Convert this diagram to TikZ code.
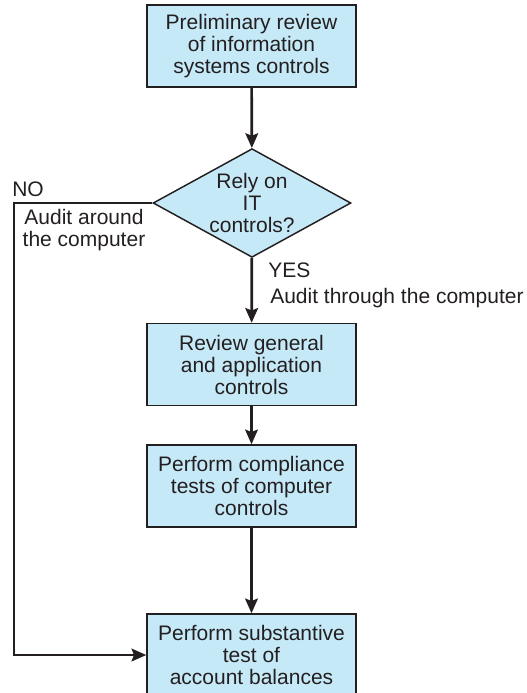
\documentclass[tikz,border=0pt]{standalone}
\usepackage{fontspec}
\setmainfont{Liberation Sans}
\usetikzlibrary{arrows.meta,shapes.geometric}
\definecolor{boxblue}{HTML}{C6E9F8}
\definecolor{inkgray}{HTML}{231F20}

\tikzset{
  stepbox/.style={draw=inkgray,fill=boxblue,line width=1.1pt,align=center,
    minimum width=156.75pt,minimum height=61.5pt,inner sep=0pt,text=inkgray},
  choice/.style={draw=inkgray,fill=boxblue,line width=1.1pt,diamond,aspect=1.82,
    inner sep=0.6pt,align=center,text=inkgray},
  note/.style={text=inkgray,inner sep=0pt},
  flow/.style={line width=2pt,draw=inkgray,-{Stealth[length=11pt,width=9.5pt,inset=1.8pt]}}
}

\begin{document}
\begin{tikzpicture}[x=0.75pt,y=-0.75pt,font=\fontsize{15.75pt}{16.5pt}\selectfont]
  \useasboundingbox (0,0) rectangle (527,693);

  \node[stepbox] (review) at (251.5,46) {Preliminary review\\of information\\systems controls};
  \node[choice] (rely) at (252,203) {Rely on\\IT\\controls?};
  \node[stepbox] (general) at (251.5,364.5) {Review general\\and application\\controls};
  \node[stepbox] (compliance) at (251.5,486) {Perform compliance\\tests of computer\\controls};
  \node[stepbox] (substantive) at (251.5,655) {Perform substantive\\test of\\account balances};

  \node[note,anchor=west] (no) at (12,189) {NO};
  \node[note,align=center] (around) at (84,230) {Audit around\\the computer};
  \node[note,anchor=west] (yes) at (268,270) {YES};
  \node[note,anchor=west] (through) at (270,298) {Audit through the computer};
  \coordinate (noline) at (14,0);

  \draw[flow] (review) -- (rely);
  \draw[flow] (rely) -- (general);
  \draw[flow] (general) -- (compliance);
  \draw[flow] (compliance) -- (substantive);
  \draw[flow] (rely.west) -- (rely.west -| noline) |- (substantive.west);
\end{tikzpicture}
\end{document}
